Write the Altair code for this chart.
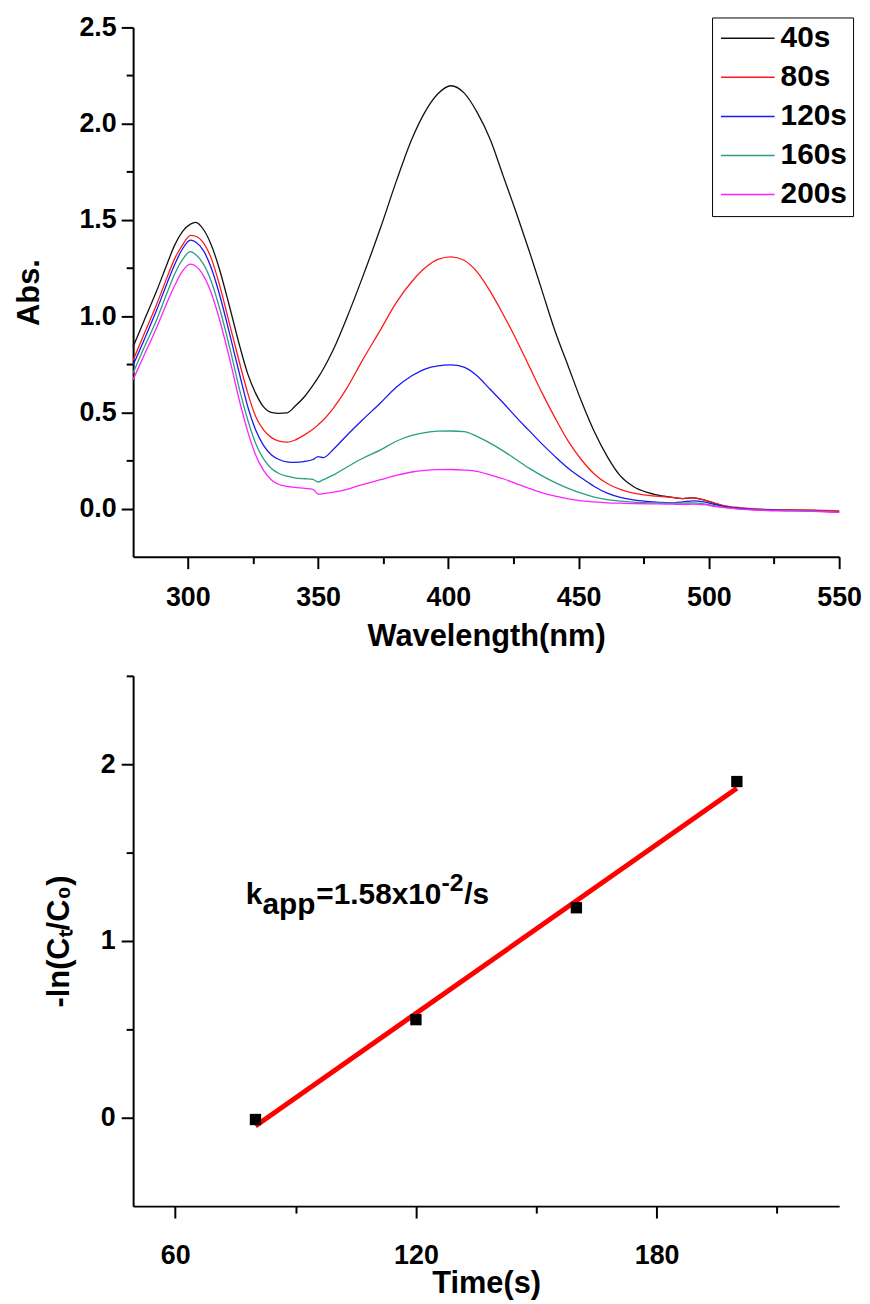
import altair as alt
import pandas as pd

FONT = "Liberation Sans"

# ---------------- top panel: UV-vis spectra ----------------
wavelength = [279, 283, 288, 292, 295, 298, 301, 303, 306, 309,
              312, 316, 320, 323, 326, 329, 332, 335, 338, 341,
              345, 348, 350, 352, 356, 361, 367, 374, 380, 386,
              391, 396, 401, 406, 411, 416, 421, 426, 431, 436,
              441, 446, 451, 456, 461, 466, 471, 476, 481, 486,
              490, 494, 498, 502, 506, 510, 516, 522, 530, 540,
              550]

abs_40s = [0.84, 0.97, 1.13, 1.27, 1.37, 1.44, 1.478, 1.487, 1.45, 1.37,
           1.25, 1.05, 0.84, 0.70, 0.60, 0.53, 0.50, 0.495, 0.497, 0.53,
           0.585, 0.64, 0.68, 0.725, 0.83, 0.99, 1.20, 1.46, 1.70, 1.92,
           2.06, 2.155, 2.197, 2.16, 2.06, 1.92, 1.73, 1.54, 1.34, 1.13,
           0.92, 0.74, 0.56, 0.40, 0.27, 0.17, 0.115, 0.085, 0.068, 0.058,
           0.052, 0.056, 0.045, 0.028, 0.012, 0.004, -0.003, -0.006, -0.008, -0.01,
           -0.015]

abs_80s = [0.77, 0.90, 1.06, 1.20, 1.30, 1.37, 1.42, 1.415, 1.38, 1.30,
           1.17, 0.96, 0.75, 0.60, 0.48, 0.41, 0.37, 0.35, 0.345, 0.355,
           0.385, 0.412, 0.435, 0.46, 0.525, 0.625, 0.77, 0.93, 1.07, 1.18,
           1.25, 1.295, 1.308, 1.29, 1.23, 1.13, 1.01, 0.88, 0.74, 0.60,
           0.47, 0.35, 0.255, 0.18, 0.13, 0.10, 0.08, 0.07, 0.063, 0.058,
           0.052, 0.056, 0.045, 0.03, 0.015, 0.007, 0.0, -0.004, -0.006, -0.008,
           -0.012]

abs_120s = [0.745, 0.87, 1.03, 1.17, 1.27, 1.35, 1.395, 1.385, 1.34, 1.25,
            1.12, 0.91, 0.69, 0.53, 0.41, 0.33, 0.28, 0.255, 0.243, 0.24,
            0.245, 0.255, 0.27, 0.265, 0.31, 0.38, 0.46, 0.55, 0.63, 0.69,
            0.725, 0.742, 0.747, 0.735, 0.69, 0.62, 0.55, 0.475, 0.405, 0.335,
            0.27, 0.21, 0.16, 0.115, 0.08, 0.058, 0.045, 0.037, 0.032, 0.03,
            0.035, 0.04, 0.035, 0.022, 0.01, 0.003, -0.003, -0.006, -0.01, -0.012,
            -0.018]

abs_160s = [0.705, 0.83, 0.98, 1.12, 1.22, 1.295, 1.335, 1.32, 1.27, 1.18,
            1.05, 0.84, 0.61, 0.46, 0.34, 0.26, 0.21, 0.182, 0.168, 0.16,
            0.155, 0.152, 0.138, 0.15, 0.175, 0.215, 0.26, 0.305, 0.35, 0.38,
            0.395, 0.402, 0.403, 0.40, 0.375, 0.34, 0.30, 0.255, 0.21, 0.17,
            0.135, 0.105, 0.08, 0.06, 0.047, 0.039, 0.034, 0.031, 0.029, 0.028,
            0.028, 0.03, 0.025, 0.015, 0.006, 0.0, -0.005, -0.008, -0.01, -0.012,
            -0.018]

abs_200s = [0.67, 0.79, 0.94, 1.07, 1.16, 1.235, 1.27, 1.26, 1.21, 1.12,
            0.99, 0.78, 0.55, 0.40, 0.28, 0.20, 0.15, 0.125, 0.115, 0.11,
            0.105, 0.10, 0.075, 0.078, 0.085, 0.10, 0.125, 0.15, 0.172, 0.19,
            0.198, 0.202, 0.203, 0.20, 0.193, 0.175, 0.155, 0.13, 0.105, 0.082,
            0.065, 0.05, 0.04, 0.035, 0.03, 0.028, 0.026, 0.025, 0.024, 0.023,
            0.022, 0.023, 0.02, 0.012, 0.005, 0.0, -0.006, -0.01, -0.012, -0.015,
            -0.02]

series_labels = ["40s", "80s", "120s", "160s", "200s"]
series_colors = ["#111111", "#ff1a1a", "#1a1aee", "#2a9d86", "#ff22ff"]
series_values = [abs_40s, abs_80s, abs_120s, abs_160s, abs_200s]

x_ticks_top = [300, 325, 350, 375, 400, 425, 450, 475, 500, 525, 550]
y_ticks_top = [0.0, 0.25, 0.5, 0.75, 1.0, 1.25, 1.5, 1.75, 2.0, 2.25, 2.5]

# ---------------- bottom panel: kinetics ----------------
time_s = [80, 120, 160, 200]
neg_ln = [-0.01, 0.555, 1.188, 1.902]
x_ticks_bot = [60, 90, 120, 150, 180, 210]
y_ticks_bot = [0.0, 0.5, 1.0, 1.5, 2.0, 2.5]

ann_t = [77.6]
ann_y = [1.21]

rows = []
for lab, vals in zip(series_labels, series_values):
    for w, v in zip(wavelength, vals):
        rows.append({"wl": w, "abs": v, "series": lab})
spec_df = pd.DataFrame(rows)
kin_df = pd.DataFrame({"t": time_s, "y": neg_ln})
ann_df = pd.DataFrame({"t": ann_t, "y": ann_y})

TOP_W, TOP_H = 711, 533
BOT_W, BOT_H = 711, 534

top = alt.Chart(spec_df).mark_line(strokeWidth=1.3, interpolate="monotone").encode(
    x=alt.X("wl:Q",
            scale=alt.Scale(domain=[279, 550], nice=False, zero=False),
            axis=alt.Axis(title="Wavelength(nm)", values=x_ticks_top,
                          labelExpr="datum.value % 50 === 0 ? datum.label : ''",
                          tickSize={"condition": {"test": "datum.value % 50 === 0", "value": 12}, "value": 7},
                          labelPadding=16, titlePadding=11)),
    y=alt.Y("abs:Q",
            scale=alt.Scale(domain=[-0.25, 2.5], nice=False, zero=False),
            axis=alt.Axis(title="Abs.", values=y_ticks_top,
                          labelExpr="round(datum.value*4) % 2 === 0 ? format(datum.value, '.1f') : ''",
                          tickSize={"condition": {"test": "round(datum.value*4) % 2 === 0", "value": 12}, "value": 7},
                          labelPadding=5, titleX=-104, titleY=TOP_H / 2,
                          titleBaseline="middle", titleAlign="center")),
    color=alt.Color("series:N",
                    scale=alt.Scale(domain=series_labels, range=series_colors),
                    legend=alt.Legend(title=None, orient="none", legendX=583, legendY=-10,
                                      symbolType="M-1.2,0H4.2", symbolSize=400,
                                      symbolStrokeWidth=1.5, labelFont=FONT, labelFontSize=30,
                                      labelFontWeight="bold", labelColor="black",
                                      labelOffset=33, rowPadding=9.3, padding=6,
                                      strokeColor="black")),
).properties(width=TOP_W, height=TOP_H)

x_bot = alt.X("t:Q",
              scale=alt.Scale(domain=[49.5, 225.5], nice=False, zero=False),
              axis=alt.Axis(title="Time(s)", values=x_ticks_bot,
                            labelExpr="datum.value % 60 === 0 ? datum.label : ''",
                            tickSize={"condition": {"test": "datum.value % 60 === 0", "value": 12}, "value": 7},
                            labelPadding=25, titlePadding=0))
y_bot = alt.Y("y:Q",
              scale=alt.Scale(domain=[-0.5, 2.5], nice=False, zero=False),
              axis=alt.Axis(title="-ln(Cₜ/C₀)", values=y_ticks_bot,
                            labelExpr="datum.value % 1 === 0 ? format(datum.value, '.0f') : ''",
                            tickSize={"condition": {"test": "datum.value % 1 === 0", "value": 12}, "value": 7},
                            labelPadding=6, titleX=-74, titleY=BOT_H / 2,
                            titleBaseline="middle", titleAlign="center"))

base_kin = alt.Chart(kin_df)
fit = base_kin.transform_regression("t", "y", extent=[80, 200]).mark_line(
    color="#ff0000", strokeWidth=5).encode(x=x_bot, y=y_bot)
pts = base_kin.mark_square(size=130, color="black", opacity=1).encode(x="t:Q", y="y:Q")

ann_base = alt.Chart(ann_df)
def piece(txt, dx, dy, size):
    return ann_base.mark_text(text=txt, align="left", baseline="alphabetic", dx=dx, dy=dy,
                              font=FONT, fontSize=size, fontWeight="bold", color="black"
                              ).encode(x="t:Q", y="y:Q")

ann = alt.layer(
    piece("k", 0, 0, 30),
    piece("app", 16.7, 10, 30),
    piece("=1.58x10", 71, 0, 30),
    piece("-2", 197, -13, 25),
    piece("/s", 220, 0, 30),
)

bottom = alt.layer(fit, pts, ann).properties(width=BOT_W, height=BOT_H)

chart = alt.vconcat(top, bottom, spacing=11).properties(
    padding={"left": 6, "top": 1, "right": 0, "bottom": 0},
).configure_view(stroke=None).configure_axis(
    labelFont=FONT, labelFontSize=27, labelFontWeight="bold", labelColor="black",
    titleFont=FONT, titleFontSize=31, titleFontWeight="bold", titleColor="black",
    domainColor="black", domainWidth=2, tickColor="black", tickWidth=2, grid=False,
    labelFlush=False, labelOverlap=False,
)

chart.save("out.html", embed_options={"renderer": "svg", "actions": False})
